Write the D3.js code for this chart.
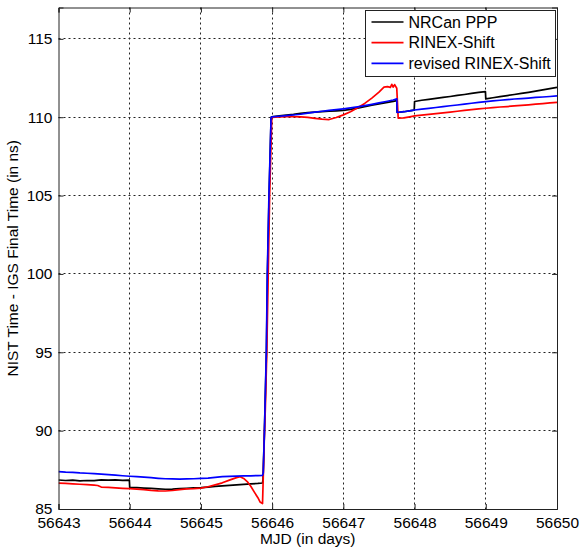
<!DOCTYPE html>
<html>
<head>
<meta charset="utf-8">
<script src="https://cdn.jsdelivr.net/npm/d3@7"></script>
<style>
  body { margin: 0; background: #fff; }
  text { font-family: "Liberation Sans", Arial, sans-serif; fill: #000; }
</style>
</head>
<body>
<script>
// NIST Time - IGS Final Time, [MJD, ns]
var ppp = [
  [56643.00, 86.85], [56643.10, 86.82], [56643.20, 86.84], [56643.30, 86.80], [56643.40, 86.82],
  [56643.50, 86.81], [56643.60, 86.86], [56643.70, 86.84], [56643.80, 86.86], [56643.90, 86.83],
  [56643.995, 86.84], [56644.00, 86.37], [56644.10, 86.36], [56644.20, 86.33], [56644.30, 86.31],
  [56644.40, 86.28], [56644.50, 86.26], [56644.60, 86.27], [56644.70, 86.30], [56644.80, 86.32],
  [56644.90, 86.35], [56645.00, 86.37], [56645.10, 86.40], [56645.20, 86.44], [56645.30, 86.48],
  [56645.40, 86.51], [56645.50, 86.54], [56645.60, 86.57], [56645.70, 86.60], [56645.80, 86.63],
  [56645.865, 86.66], [56645.872, 86.9], [56645.892, 90.0], [56645.920, 95.0], [56645.934, 100.0],
  [56645.957, 105.0], [56645.985, 109.9], [56645.99, 110.02], [56646.10, 110.08], [56646.20, 110.14],
  [56646.30, 110.18], [56646.40, 110.25], [56646.50, 110.29], [56646.60, 110.33], [56646.70, 110.36],
  [56646.80, 110.38], [56646.90, 110.41], [56647.00, 110.44], [56647.10, 110.50], [56647.20, 110.58],
  [56647.30, 110.67], [56647.40, 110.77], [56647.50, 110.85], [56647.60, 110.93], [56647.70, 111.01],
  [56647.75, 111.06], [56647.755, 110.30], [56647.85, 110.35], [56647.95, 110.42], [56647.995, 110.45],
  [56648.00, 111.00], [56648.10, 111.08], [56648.20, 111.14], [56648.30, 111.20], [56648.40, 111.26],
  [56648.50, 111.32], [56648.60, 111.39], [56648.70, 111.45], [56648.80, 111.52], [56648.90, 111.58],
  [56648.995, 111.63], [56649.00, 111.17], [56649.10, 111.24], [56649.20, 111.31], [56649.30, 111.38],
  [56649.40, 111.45], [56649.50, 111.52], [56649.60, 111.59], [56649.70, 111.66], [56649.80, 111.74],
  [56649.90, 111.82], [56650.00, 111.90]
];

var rinexShift = [
  [56643.00, 86.65], [56643.10, 86.63], [56643.20, 86.60], [56643.30, 86.58], [56643.40, 86.56],
  [56643.50, 86.52], [56643.55, 86.50], [56643.60, 86.40], [56643.70, 86.38], [56643.80, 86.35],
  [56643.90, 86.32], [56644.00, 86.30], [56644.10, 86.27], [56644.20, 86.24], [56644.30, 86.19],
  [56644.40, 86.16], [56644.50, 86.15], [56644.60, 86.18], [56644.70, 86.24], [56644.80, 86.28],
  [56644.90, 86.30], [56645.00, 86.33], [56645.10, 86.42], [56645.20, 86.54], [56645.30, 86.67],
  [56645.40, 86.84], [56645.50, 87.00], [56645.55, 87.06], [56645.60, 86.95], [56645.65, 86.75],
  [56645.70, 86.45], [56645.75, 86.08], [56645.80, 85.72], [56645.83, 85.45], [56645.865, 85.35],
  [56645.875, 87.0], [56645.890, 89.5], [56645.905, 91.5], [56645.925, 95.0], [56645.945, 100.0],
  [56645.965, 105.0], [56645.995, 109.98], [56646.10, 110.02], [56646.20, 110.04], [56646.30, 110.03],
  [56646.40, 110.02], [56646.50, 109.99], [56646.60, 109.93], [56646.70, 109.88], [56646.80, 109.85],
  [56646.90, 109.98], [56647.00, 110.15], [56647.10, 110.35], [56647.20, 110.60], [56647.30, 110.88],
  [56647.40, 111.22], [56647.50, 111.60], [56647.57, 111.92], [56647.62, 111.95], [56647.66, 111.90],
  [56647.68, 112.10], [56647.70, 111.92], [56647.72, 112.08], [56647.75, 111.85], [56647.77, 109.94],
  [56647.85, 109.96], [56647.95, 110.04], [56648.00, 110.08], [56648.10, 110.13], [56648.20, 110.18],
  [56648.30, 110.23], [56648.40, 110.28], [56648.50, 110.33], [56648.60, 110.38], [56648.70, 110.43],
  [56648.80, 110.48], [56648.90, 110.53], [56649.00, 110.57], [56649.10, 110.61], [56649.20, 110.65],
  [56649.30, 110.68], [56649.40, 110.72], [56649.50, 110.76], [56649.60, 110.79], [56649.70, 110.83],
  [56649.80, 110.87], [56649.90, 110.91], [56650.00, 110.95]
];

var revised = [
  [56643.00, 87.38], [56643.10, 87.35], [56643.20, 87.34], [56643.30, 87.30], [56643.40, 87.28],
  [56643.50, 87.26], [56643.60, 87.22], [56643.70, 87.19], [56643.80, 87.16], [56643.90, 87.12],
  [56644.00, 87.09], [56644.10, 87.06], [56644.20, 87.03], [56644.30, 87.00], [56644.40, 86.96],
  [56644.50, 86.93], [56644.60, 86.92], [56644.70, 86.91], [56644.80, 86.92], [56644.90, 86.93],
  [56645.00, 86.95], [56645.10, 86.97], [56645.20, 87.02], [56645.30, 87.06], [56645.40, 87.08],
  [56645.50, 87.10], [56645.60, 87.11], [56645.70, 87.12], [56645.80, 87.13], [56645.865, 87.15],
  [56645.875, 87.3], [56645.892, 90.0], [56645.918, 95.0], [56645.932, 100.0], [56645.955, 105.0],
  [56645.985, 110.0], [56646.00, 110.02], [56646.10, 110.06], [56646.20, 110.10], [56646.30, 110.14],
  [56646.40, 110.19], [56646.50, 110.26], [56646.60, 110.32], [56646.70, 110.38], [56646.80, 110.43],
  [56646.90, 110.48], [56647.00, 110.53], [56647.10, 110.59], [56647.20, 110.66], [56647.30, 110.74],
  [56647.40, 110.82], [56647.50, 110.91], [56647.60, 111.00], [56647.70, 111.10], [56647.75, 111.17],
  [56647.755, 110.30], [56647.85, 110.35], [56647.95, 110.42], [56648.00, 110.46], [56648.10, 110.51],
  [56648.20, 110.56], [56648.30, 110.62], [56648.40, 110.67], [56648.50, 110.73], [56648.60, 110.78],
  [56648.70, 110.84], [56648.80, 110.89], [56648.90, 110.95], [56649.00, 111.00], [56649.10, 111.04],
  [56649.20, 111.08], [56649.30, 111.12], [56649.40, 111.16], [56649.50, 111.19], [56649.60, 111.22],
  [56649.70, 111.26], [56649.80, 111.29], [56649.90, 111.32], [56650.00, 111.36]
];

var xTicks = [56643, 56644, 56645, 56646, 56647, 56648, 56649, 56650];
var yTicks = [85, 90, 95, 100, 105, 110, 115];
var seriesNames = ["NRCan PPP", "RINEX-Shift", "revised RINEX-Shift"];
var seriesColors = ["#000000", "#ff0000", "#0000ff"];

var W = 580, H = 548;
var margin = {left: 58.5, top: 7.5, right: 23, bottom: 39};
var width = W - margin.left - margin.right,
    height = H - margin.top - margin.bottom;

var svg = d3.select("body").append("svg")
    .attr("width", W).attr("height", H);

var g = svg.append("g")
    .attr("transform", "translate(" + margin.left + "," + margin.top + ")");

var xScale = d3.scaleLinear().domain([56643, 56650]).range([0, width]);
var yScale = d3.scaleLinear().domain([85, 117]).range([height, 0]);

// grid (MATLAB dotted)
g.append("g").selectAll("line").data(xTicks.slice(1, -1)).join("line")
    .attr("x1", d => Math.round(xScale(d))).attr("x2", d => Math.round(xScale(d)))
    .attr("y1", 0).attr("y2", height)
    .attr("stroke", "#222").attr("stroke-dasharray", "2,3");
g.append("g").selectAll("line").data(yTicks.slice(1)).join("line")
    .attr("y1", d => Math.round(yScale(d))).attr("y2", d => Math.round(yScale(d)))
    .attr("x1", 0).attr("x2", width)
    .attr("stroke", "#222").attr("stroke-dasharray", "2,3");

// lines
svg.append("defs").append("clipPath").attr("id", "clip")
  .append("rect").attr("width", width).attr("height", height);

var line = d3.line()
    .x(d => xScale(d[0]))
    .y(d => yScale(d[1]));

var plot = g.append("g").attr("clip-path", "url(#clip)");
[ppp, rinexShift, revised].forEach(function (s, i) {
  plot.append("path")
      .attr("d", line(s))
      .attr("fill", "none")
      .attr("stroke", seriesColors[i])
      .attr("stroke-width", 1.7)
      .attr("stroke-linejoin", "round");
});

// axes, ticks inward, box
var xAxis = d3.axisBottom(xScale).tickValues(xTicks).tickSize(-5).tickPadding(8).tickFormat(d3.format("d"));
var yAxis = d3.axisLeft(yScale).tickValues(yTicks).tickSize(-5).tickPadding(6).tickFormat(d3.format("d"));

var gx = g.append("g").attr("transform", "translate(0," + height + ")").call(xAxis);
var gy = g.append("g").call(yAxis);
g.append("g").call(d3.axisTop(xScale).tickValues(xTicks).tickSize(-5).tickFormat(""));
g.append("g").attr("transform", "translate(" + width + ",0)")
    .call(d3.axisRight(yScale).tickValues(yTicks).tickSize(-5).tickFormat(""));

g.selectAll(".domain").attr("stroke", "#222");
g.selectAll(".tick line").attr("stroke", "#222");
gx.selectAll("text").attr("font-size", 15.5).attr("font-family", "Liberation Sans, Arial, sans-serif");
gy.selectAll("text").attr("font-size", 15.5).attr("font-family", "Liberation Sans, Arial, sans-serif");

// axis labels
svg.append("text")
    .attr("x", margin.left + width / 2).attr("y", 544)
    .attr("text-anchor", "middle").attr("font-size", 15.5)
    .text("MJD (in days)");
svg.append("text")
    .attr("transform", "translate(18," + (margin.top + height / 2) + ") rotate(-90)")
    .attr("text-anchor", "middle").attr("font-size", 15.5)
    .text("NIST Time - IGS Final Time (in ns)");

// legend
var lg = svg.append("g").attr("transform", "translate(365.5,10.5)");
lg.append("rect").attr("width", 190).attr("height", 66)
    .attr("fill", "#fff").attr("stroke", "#222");
seriesNames.forEach(function (name, i) {
  var yy = 11.5 + i * 20.7;
  lg.append("line").attr("x1", 6).attr("x2", 38).attr("y1", yy).attr("y2", yy)
      .attr("stroke", seriesColors[i]).attr("stroke-width", 1.7);
  lg.append("text").attr("x", 43).attr("y", yy + 5.5)
      .attr("font-size", 16).text(name);
});
</script>
</body>
</html>
